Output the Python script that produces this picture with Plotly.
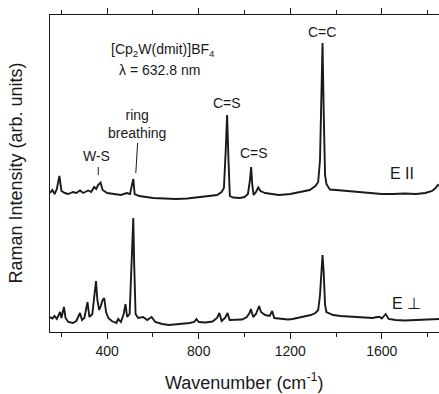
import plotly.graph_objects as go

# ---- data (wavenumber in cm^-1, intensity in arb. units) ----
wn_par = [150, 160, 170, 180, 191, 200, 215, 230, 250, 265, 281, 295, 317, 330, 343, 352, 360, 371, 380,
          400, 430, 460, 485, 500, 508, 514, 520, 540, 570, 600, 650, 700, 750, 800, 850, 880, 900, 910,
          918, 924, 930, 936, 950, 980, 1000, 1015, 1024, 1029, 1034, 1040, 1050, 1060, 1070, 1090, 1120,
          1150, 1200, 1250, 1285, 1310, 1322, 1330, 1336, 1341, 1346, 1352, 1358, 1373, 1400, 1450, 1500,
          1550, 1600, 1650, 1700, 1750, 1790, 1820, 1835, 1845, 1850]
int_par = [139, 142, 138, 143, 156, 141, 139, 138, 140, 139, 141.5, 139, 141.5, 140, 145, 143, 147, 149.5, 142,
           139, 138, 137, 139, 138, 147, 153, 138, 136, 135, 134, 133.5, 133, 133.5, 135, 136.5, 137, 140, 144,
           182, 217, 172, 136, 134.5, 134, 135, 138, 152, 165, 147, 137, 140, 144.5, 141, 139, 138,
           137, 138, 140, 142, 146, 150, 172, 232, 289, 222, 157, 148, 142.5, 142, 141, 140,
           139, 138, 138, 138.5, 138, 139, 141, 144, 147, 146]

wn_perp = [150, 160, 170, 180, 194, 200, 211, 218, 230, 250, 265, 281, 290, 300, 314, 322, 335, 345, 351, 357,
           365, 372, 380, 387, 395, 405, 420, 440, 448, 460, 472, 480, 487, 498, 506, 510, 514, 518, 524, 535,
           557, 575, 594, 610, 640, 670, 700, 730, 760, 780, 790, 800, 830, 860, 880, 890, 900, 915, 926, 935,
           960, 990, 1010, 1022, 1028, 1038, 1050, 1058, 1064, 1072, 1090, 1110, 1121, 1130, 1160, 1190, 1210,
           1240, 1270, 1290, 1310, 1322, 1330, 1336, 1341, 1346, 1352, 1358, 1375, 1387, 1420, 1450, 1490,
           1520, 1560, 1580, 1591, 1600, 1617, 1630, 1660, 1700, 1740, 1780, 1820, 1850]
int_perp = [15, 13.5, 16, 13, 20, 14, 25, 14, 10, 9, 11, 19, 12, 14, 30, 15, 18, 42, 51, 32,
            22, 26, 32, 34, 20, 14, 11, 9, 13, 10, 18, 28, 15, 18, 62, 102, 114, 67, 18, 14,
            15, 12, 15, 10, 8, 7, 7.5, 8.5, 9, 10, 13, 10, 9.5, 10.5, 14, 19, 11, 14, 19, 12,
            12, 12.5, 15, 19, 23, 15, 18, 24, 26, 20, 17, 16, 21, 14, 13.5, 12.5, 13,
            14.5, 16, 17, 19, 22, 37, 62, 77, 60, 27, 20, 18, 17, 16, 15.5, 15,
            14.5, 14, 15, 15, 13.5, 18, 13, 12, 11.5, 12, 12, 12.5, 13]

major_ticks = [400, 800, 1200, 1600]
tick_labels = ["400", "800", "1200", "1600"]

FONT = "Arial, Liberation Sans, sans-serif"
INK = "#1a1a1a"

fig = go.Figure()
fig.add_trace(go.Scatter(x=wn_par, y=int_par, mode="lines",
                         line=dict(color=INK, width=1.9), showlegend=False, hoverinfo="skip"))
fig.add_trace(go.Scatter(x=wn_perp, y=int_perp, mode="lines",
                         line=dict(color=INK, width=1.9), showlegend=False, hoverinfo="skip"))

fig.update_layout(
    width=439, height=394,
    margin=dict(l=50, r=0, t=15, b=62),
    paper_bgcolor="white", plot_bgcolor="white",
    font=dict(family=FONT, color=INK, size=14),
    xaxis=dict(range=[150, 1850], tickmode="array", tickvals=major_ticks, ticktext=tick_labels,
               ticks="outside", ticklen=6, tickwidth=1, tickcolor=INK,
               showline=True, linecolor=INK, linewidth=1, mirror="allticks",
               showgrid=False, zeroline=False, tickfont=dict(size=14),
               minor=dict(tickvals=[200, 600, 1000, 1400, 1800], ticks="outside", ticklen=4,
                          tickcolor=INK, showgrid=False)),
    yaxis=dict(range=[0, 317], showticklabels=False, ticks="", showline=True, linecolor=INK,
               linewidth=1, mirror=False, showgrid=False, zeroline=False),
)

ann = dict(showarrow=False, font=dict(family=FONT, size=14, color=INK))
fig.add_annotation(x=643, y=282, text="[Cp<sub>2</sub>W(dmit)]BF<sub>4</sub>", **ann)
fig.add_annotation(x=630, y=262, text="λ = 632.8 nm", **ann)
fig.add_annotation(x=1338, y=300, text="C=C", **ann)
fig.add_annotation(x=923, y=229, text="C=S", **ann)
fig.add_annotation(x=1041, y=179, text="C=S", **ann)
fig.add_annotation(x=530, y=208, text="ring<br>breathing", **ann)
fig.add_annotation(x=355, y=176, text="W-S", **ann)
fig.add_annotation(x=1687, y=159, text="E II", showarrow=False, font=dict(family=FONT, size=16, color=INK))
fig.add_annotation(x=1709, y=29, text="E <span style='font-family:DejaVu Sans'>⊥</span>", showarrow=False,
                   font=dict(family=FONT, size=16, color=INK))

fig.add_shape(type="line", x0=361, x1=361, y0=157, y1=165, line=dict(color=INK, width=1))
fig.add_shape(type="line", x0=525, x1=533, y0=159, y1=189, line=dict(color=INK, width=1))

fig.add_annotation(xref="paper", yref="paper", x=0.5, y=-0.157, yanchor="middle",
                   text="Wavenumber (cm<sup>-1</sup>)", showarrow=False,
                   font=dict(family=FONT, size=18, color=INK))
fig.add_annotation(xref="paper", yref="paper", x=(15 - 50) / 389, y=0.5, textangle=-90,
                   xanchor="center", yanchor="middle",
                   text="Raman Intensity (arb. units)", showarrow=False,
                   font=dict(family=FONT, size=18, color=INK))

fig.write_html("out.html", config={"displayModeBar": False, "staticPlot": True},
               post_script="document.body.style.margin='0';document.body.style.overflow='hidden';")
